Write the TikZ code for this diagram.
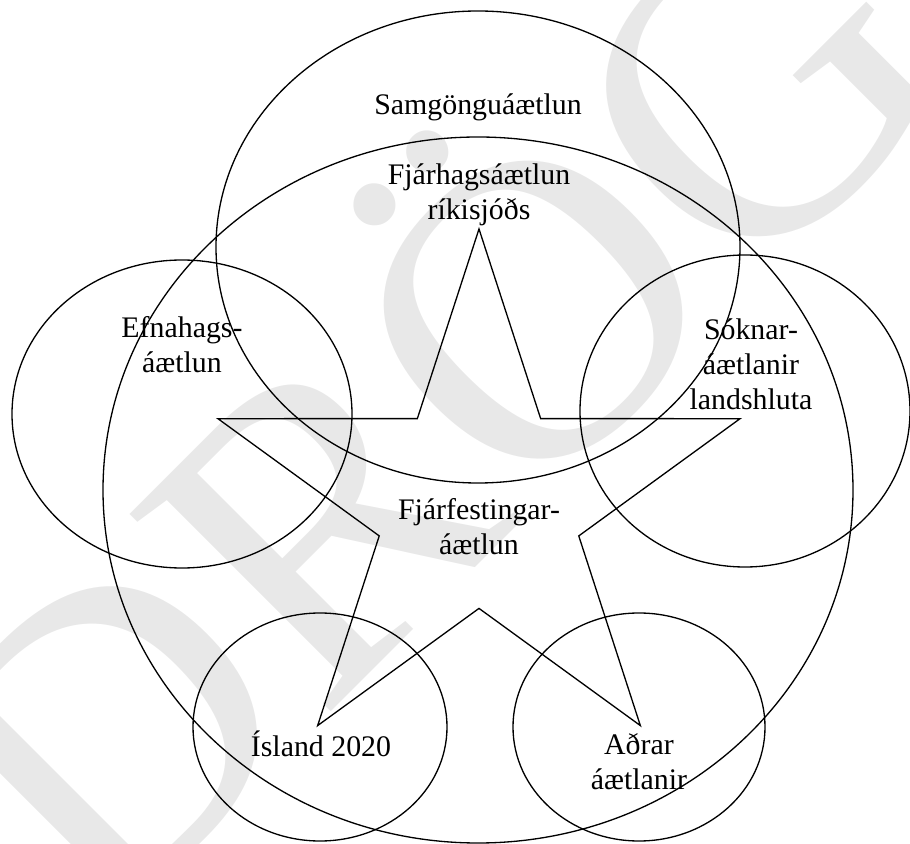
\documentclass[tikz,border=0pt]{standalone}
\usepackage{fontspec}
\setmainfont{Liberation Serif}
\usepackage{tikz}
\usetikzlibrary{positioning}

\begin{document}
\begin{tikzpicture}[x=0.02cm, y=0.02cm]
			\tikzstyle{every node}+=[inner sep=0pt, align=center, font=\fontsize{17}{19.9}\selectfont]
			\useasboundingbox (0,0) rectangle (910,-844);
			\clip (0,0) rectangle (910,-844);
			% watermark
			\node [rotate=45, text=gray!18, font=\fontsize{245}{245}\selectfont] (drog) at (410,-389) {DRÖG};
			% circles
			\draw [black, line width=0.75pt] (478,-247) ellipse (262 and 236);
			\draw [black, line width=0.75pt] (478,-490) ellipse (375 and 353);
			\draw [black, line width=0.75pt] (182,-414) ellipse (170 and 154);
			\draw [black, line width=0.75pt] (745,-411) ellipse (165 and 156);
			\draw [black, line width=0.75pt] (320,-727) ellipse (127 and 114);
			\draw [black, line width=0.75pt] (639,-727) ellipse (126 and 114);
			% star
			\draw [black, line width=0.75pt, shift={(479,-503.5)}] (90:274.5) -- (126:104.9) -- (162:274.5) -- (198:104.9) -- (234:274.5) -- (270:104.9) -- (306:274.5) -- (342:104.9) -- (18:274.5) -- (54:104.9) -- cycle;
			% labels
			\draw (478,-107) node (samg) {Samgönguáætlun};
			\draw (479,-195) node (fjarh) {Fjárhagsáætlun\\ríkisjóðs};
			\draw (182,-345) node (efna) {Efnahags-\\áætlun};
			\draw (751,-364) node (sokn) {Sóknar-\\áætlanir\\landshluta};
			\draw (479,-527) node (fjarf) {Fjárfestingar-\\áætlun};
			\draw (321,-744) node (isl) {Ísland 2020};
			\draw (639,-762) node (adrar) {Aðrar\\áætlanir};
\end{tikzpicture}
\end{document}
